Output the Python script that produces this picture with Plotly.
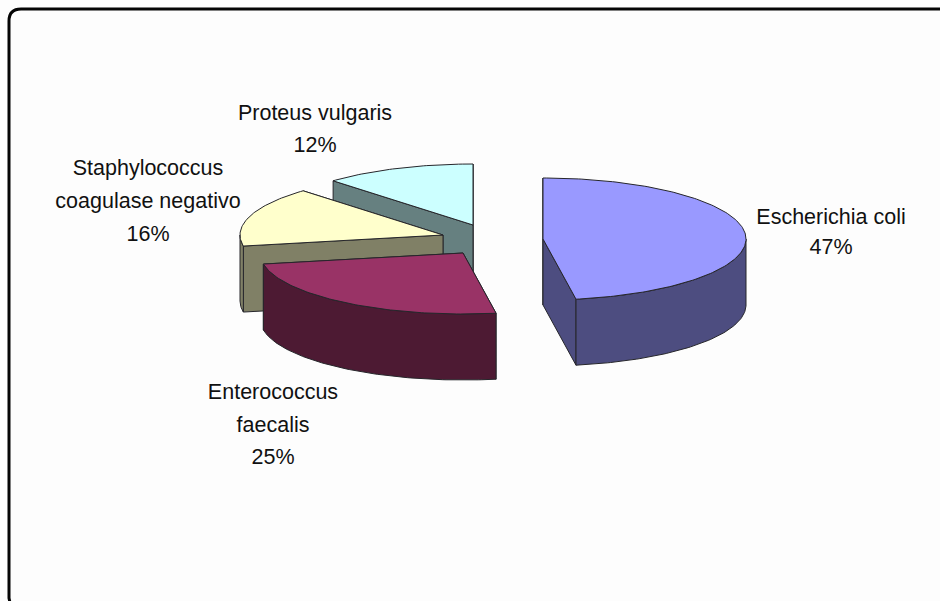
import numpy as np
import plotly.graph_objects as go

# Data
categories = ["Escherichia coli", "Enterococcus faecalis",
              "Staphylococcus coagulase negativo", "Proteus vulgaris"]
values = [47.4, 24.7, 15.8, 12.1]
label_lines = [["Escherichia coli"], ["Enterococcus", "faecalis"],
               ["Staphylococcus", "coagulase negativo"], ["Proteus vulgaris"]]

# Style and layout of the projected pie
top_colors = ["#9999FF", "#993366", "#FFFFCC", "#CCFFFF"]
side_colors = ["#4D4D80", "#4D1A33", "#808066", "#668080"]
centers = [(543, 239), (463, 253), (443, 235), (473, 225)]
label_pos = [(831, 219), (273, 394), (148, 170), (315, 115)]
line_gap = [30, 32.5, 33, 32]
RX, RY, DEPTH = 203, 61, 66
EDGE = "#26262b"
FONT = dict(family="Liberation Sans, Arial", size=21.5, color="#111111")


def arc(cx, cy, a0, a1, dz=0.0):
    t = np.radians(np.linspace(a0, a1, max(int(abs(a1 - a0)), 2) + 1))
    return cx + RX * np.sin(t), cy - RY * np.cos(t) + dz


def poly(fig, x, y, color):
    x = np.append(x, x[0])
    y = np.append(y, y[0])
    fig.add_trace(go.Scatter(x=x, y=y, mode="lines", fill="toself", fillcolor=color,
                             line=dict(color=EDGE, width=1), hoverinfo="skip",
                             showlegend=False))


fig = go.Figure()
total = sum(values)
edges = np.concatenate([[0], np.cumsum(values)]) / total * 360
order = [3, 2, 1, 0]  # back to front

for i in order:
    a0, a1 = edges[i], edges[i + 1]
    cx, cy = centers[i]
    # cut faces, the one further back first
    ends = []
    for a in (a0, a1):
        ex, ey = arc(cx, cy, a, a)
        ends.append((ey[0], ex[0]))
    for py, px in sorted(ends):
        poly(fig, np.array([cx, px, px, cx]),
             np.array([cy, py, py + DEPTH, cy + DEPTH]), side_colors[i])
    # outer wall (front half only)
    w0, w1 = max(a0, 90), min(a1, 270)
    if w1 > w0:
        ux, uy = arc(cx, cy, w0, w1)
        lx, ly = arc(cx, cy, w1, w0, DEPTH)
        poly(fig, np.concatenate([ux, lx]), np.concatenate([uy, ly]), side_colors[i])
    # top face
    tx, ty = arc(cx, cy, a0, a1)
    poly(fig, np.concatenate([[cx], tx]), np.concatenate([[cy], ty]), top_colors[i])

# Labels
for i, lines in enumerate(label_lines):
    rows = lines + [f"{round(values[i])}%"]
    x0, y0 = label_pos[i]
    fig.add_trace(go.Scatter(x=[x0] * len(rows),
                             y=[y0 + k * line_gap[i] for k in range(len(rows))],
                             text=rows, mode="text", textposition="middle center",
                             textfont=FONT, hoverinfo="skip", showlegend=False))

# Rounded chart frame, running off the right and bottom of the picture
frame = "M 960 9 L 21 9 Q 9 9 9 21 L 9 598 L 12 612"
fig.add_shape(type="path", path=frame, line=dict(color="#050505", width=3),
              layer="above")

fig.update_layout(width=940, height=601, margin=dict(l=0, r=0, t=0, b=0),
                  paper_bgcolor="#FDFDFD", plot_bgcolor="#FDFDFD",
                  xaxis=dict(range=[0, 940], visible=False, fixedrange=True),
                  yaxis=dict(range=[601, 0], visible=False, fixedrange=True),
                  showlegend=False)
fig.write_html("out.html", config={"displayModeBar": False},
               post_script="document.body.style.margin='0';document.body.style.overflow='hidden';")
